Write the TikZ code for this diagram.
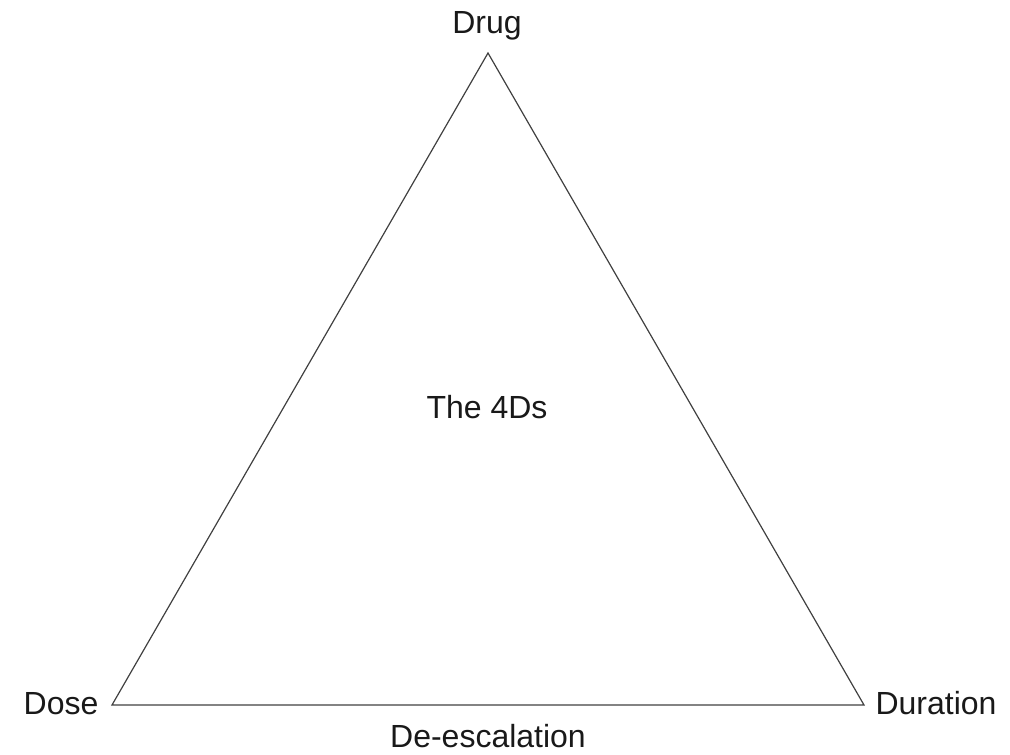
\documentclass[tikz,border=0pt]{standalone}
\usepackage{fontspec}
\setmainfont{Liberation Sans}
\begin{document}
\begin{tikzpicture}[x=1pt,y=-1pt,
  lbl/.style={font=\fontsize{32}{38}\selectfont, anchor=base, inner sep=0pt, text=black!90},
  edge/.style={draw=black!75, line width=1.2pt, line join=miter}]
\useasboundingbox (0,0) rectangle (1010,755);
\coordinate (top) at (488,53);
\coordinate (bl) at (112,705);
\coordinate (br) at (864,705);
\draw[edge] (top) -- (bl) -- (br) -- cycle;
\node[lbl] (drug) at (487,33) {Drug};
\node[lbl] (dose) at (61,714) {Dose};
\node[lbl] (dur) at (936,714) {Duration};
\node[lbl] (deesc) at (488,747) {De-escalation};
\node[lbl] (four) at (487,418) {The 4Ds};
\end{tikzpicture}
\end{document}
